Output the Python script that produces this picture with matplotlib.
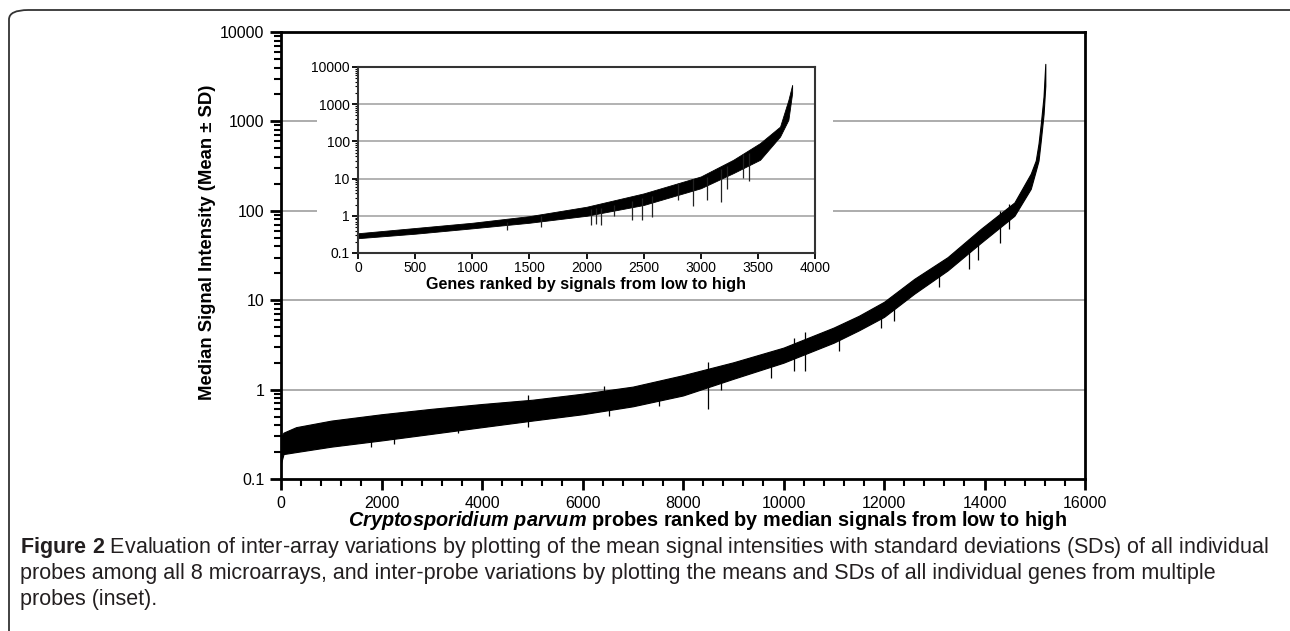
import numpy as np
import matplotlib
matplotlib.use("Agg")
import matplotlib.pyplot as plt
from matplotlib.patches import Rectangle, FancyBboxPatch
from matplotlib.ticker import LogLocator, MultipleLocator, FuncFormatter, NullFormatter

# --- main chart : probes ranked by median signal (band = mean +/- SD) ---
probe_rank = [0, 50, 300, 1000, 2000, 3000, 4000, 5000, 6000, 7000, 8000, 9000,
              10000, 11000, 11500, 12000, 12600, 13265, 13930, 14595, 14920,
              15020, 15075, 15120, 15175, 15210]
probe_low = [0.15, 0.19, 0.20, 0.23, 0.27, 0.32, 0.38, 0.45, 0.53, 0.65, 0.86, 1.32,
             2.0, 3.35, 4.6, 6.5, 11.8, 21.5, 44, 88, 176, 280, 365, 610, 1200, 2500]
probe_high = [0.30, 0.33, 0.38, 0.45, 0.53, 0.61, 0.69, 0.77, 0.90, 1.08, 1.45, 2.02,
              2.95, 4.95, 6.7, 9.6, 17.3, 30.3, 63, 124, 260, 365, 565, 937, 1900, 4400]

# isolated error bars sticking out of the band
probe_spike_rank = [1800, 2240, 3530, 4920, 6420, 6520, 7520, 8500, 8750, 9750,
                    10210, 10430, 11100, 11950, 12200, 13100, 13700, 13880, 14300, 14490]
probe_spike_low = [0.227, 0.245, 0.325, 0.38, 0.62, 0.51, 0.66, 0.61, 1.0, 1.36,
                   1.6, 1.6, 2.7, 4.9, 5.9, 14, 22.4, 28, 44, 62.5]
probe_spike_high = [0.45, 0.5, 0.6, 0.86, 1.1, 0.85, 1.1, 2.02, 1.5, 2.4,
                    3.8, 4.4, 4.5, 8.0, 9.0, 24.5, 48.6, 52, 100, 119]

# --- inset : genes ranked by signal ---
gene_rank = [0, 500, 1000, 1500, 2000, 2500, 3000, 3284, 3519, 3694, 3767, 3800]
gene_low = [0.25, 0.33, 0.46, 0.65, 1.0, 1.95, 5.5, 14, 32, 135, 380, 2000]
gene_high = [0.34, 0.47, 0.65, 0.98, 1.75, 4.0, 11.4, 32, 90, 250, 1300, 3300]

gene_spike_rank = [1300, 1600, 2042, 2085, 2127, 2240, 2395, 2482, 2570, 2800,
                   2930, 3053, 3176, 3232, 3367, 3420]
gene_spike_low = [0.41, 0.5, 0.56, 0.6, 0.57, 1.0, 0.77, 0.78, 0.95, 2.6,
                  1.8, 2.65, 2.4, 5.2, 10.3, 8.7]
gene_spike_high = [0.7, 1.0, 1.5, 1.6, 1.6, 2.0, 2.5, 3.0, 3.5, 7.5,
                   9.5, 11, 18, 22, 45, 50]

caption_lines = [
    r"$\mathbf{Figure\ 2}$ Evaluation of inter-array variations by plotting of the mean signal intensities with standard deviations (SDs) of all individual",
    "probes among all 8 microarrays, and inter-probe variations by plotting the means and SDs of all individual genes from multiple",
    "probes (inset).",
]

plt.rcParams["font.family"] = ["Liberation Sans", "DejaVu Sans"]
plt.rcParams["mathtext.fontset"] = "custom"
plt.rcParams["mathtext.it"] = "Liberation Sans:italic:bold"
plt.rcParams["mathtext.rm"] = "Liberation Sans:bold"
plt.rcParams["mathtext.bf"] = "Liberation Sans:bold"

W, H = 1290, 631
fig = plt.figure(figsize=(W / 100, H / 100), dpi=100)

def fbox(x0, y0, x1, y1):
    return [x0 / W, 1 - y1 / H, (x1 - x0) / W, (y1 - y0) / H]

num_fmt = FuncFormatter(lambda v, _: f"{v:g}")
grid_col = "#a6a6a6"

# main axes
ax = fig.add_axes(fbox(281, 32, 1085, 479))
ax.set_yscale("log")
ax.set_xlim(0, 16000)
ax.set_ylim(0.1, 10000)
for v in [1, 10, 100, 1000]:
    ax.axhline(v, color=grid_col, lw=1.3, zorder=0.5)
ax.fill_between(probe_rank, probe_low, probe_high, color="black", lw=0.8, zorder=2)
ax.vlines(probe_spike_rank, probe_spike_low, probe_spike_high, color="black", lw=0.9, zorder=2)
ax.yaxis.set_major_locator(LogLocator(base=10, numticks=10))
ax.yaxis.set_minor_locator(LogLocator(base=10, subs=np.arange(2, 10), numticks=10))
ax.yaxis.set_major_formatter(num_fmt)
ax.yaxis.set_minor_formatter(NullFormatter())
ax.xaxis.set_major_locator(MultipleLocator(2000))
ax.xaxis.set_minor_locator(MultipleLocator(400))
ax.xaxis.set_major_formatter(num_fmt)
ax.tick_params(which="major", direction="out", length=8, width=2, labelsize=11.5, pad=4)
ax.tick_params(which="minor", direction="out", length=5, width=1.5)
for s in ax.spines.values():
    s.set_linewidth(2)

fig.text(207 / W, 1 - 242 / H, "Median Signal Intensity (Mean ± SD)", rotation=90,
         ha="center", va="center", fontsize=13.3, fontweight="bold")
fig.text(707 / W, 1 - 520 / H,
         r"$Cryptosporidium\ parvum$ probes ranked by median signals from low to high",
         ha="center", va="center", fontsize=14.3, fontweight="bold")

# white area behind the inset
fig.add_artist(Rectangle((317 / W, 1 - 292 / H), (833 - 317) / W, (292 - 42) / H,
                         transform=fig.transFigure, facecolor="white",
                         edgecolor="none", zorder=0.5))

# inset axes
ax2 = fig.add_axes(fbox(358, 67, 815, 253))
ax2.set_zorder(1)
ax2.set_yscale("log")
ax2.set_xlim(0, 4000)
ax2.set_ylim(0.1, 10000)
for v in [1, 10, 100, 1000]:
    ax2.axhline(v, color=grid_col, lw=1.2, zorder=0.5)
ax2.fill_between(gene_rank, gene_low, gene_high, color="black", lw=0.6, zorder=2)
ax2.vlines(gene_spike_rank, gene_spike_low, gene_spike_high, color="#222222", lw=0.9, zorder=2)
ax2.yaxis.set_major_locator(LogLocator(base=10, numticks=10))
ax2.yaxis.set_minor_locator(LogLocator(base=10, subs=np.arange(2, 10), numticks=10))
ax2.yaxis.set_major_formatter(num_fmt)
ax2.yaxis.set_minor_formatter(NullFormatter())
ax2.xaxis.set_major_locator(MultipleLocator(500))
ax2.xaxis.set_major_formatter(num_fmt)
ax2.tick_params(which="major", direction="out", length=4, width=1.3, labelsize=10, pad=2)
ax2.tick_params(which="minor", direction="out", length=2.5, width=0.8)
for s in ax2.spines.values():
    s.set_linewidth(1.5)
    s.set_color("#333333")
ax2.set_xlabel("Genes ranked by signals from low to high", fontsize=11.6,
               fontweight="bold", labelpad=1)

# caption
for i, line in enumerate(caption_lines):
    fig.text(20 / W, 1 - (548 + i * 26) / H, line, ha="left", va="center",
             fontsize=15.5, color="#231f20")

# rounded frame around the figure
fig.add_artist(FancyBboxPatch((9 / W, -0.1), 1.2, 1 - 10 / H + 0.1,
                              boxstyle="round,pad=0,rounding_size=0.015",
                              transform=fig.transFigure, facecolor="none",
                              edgecolor="#333333", lw=1.3, clip_on=False))

fig.savefig("out.png", dpi=100)
